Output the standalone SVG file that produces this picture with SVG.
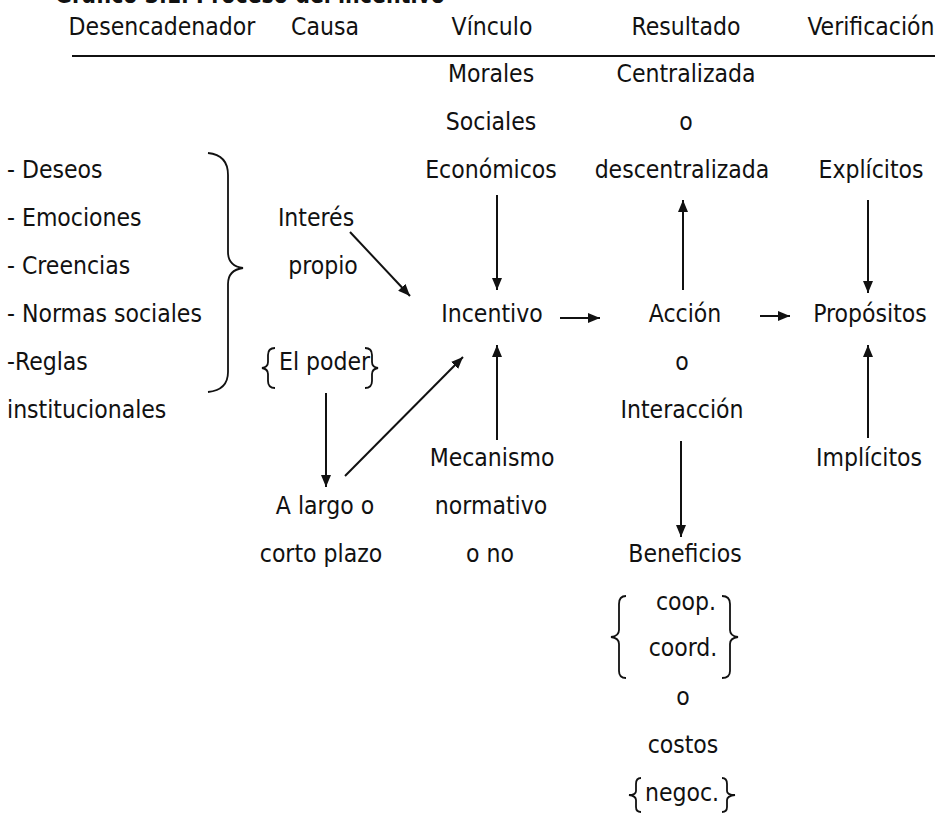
<svg xmlns="http://www.w3.org/2000/svg" width="941" height="816" viewBox="0 0 941 816">
<style>
text{font-family:"DejaVu Sans Condensed","DejaVu Sans",sans-serif;font-size:24.5px;fill:#111;}
.c{text-anchor:middle;}
.t{font-weight:bold;}
.ln{stroke:#111;stroke-width:2;fill:none;}
.br{stroke:#111;stroke-width:1.8;fill:none;}
</style>
<defs>
<marker id="ah" viewBox="0 0 12 10" refX="12" refY="5" markerWidth="12" markerHeight="10" orient="auto" markerUnits="userSpaceOnUse"><path d="M0,0 L12,5 L0,10 Z" fill="#111"/></marker>
</defs>
<rect width="941" height="816" fill="#fff"/>
<g id="title"><text class="t" x="55" y="3" textLength="390" lengthAdjust="spacingAndGlyphs">Gráfico 3.1. Proceso del incentivo</text></g>
<g id="header">
<text class="c" x="162" y="35">Desencadenador</text>
<text class="c" x="325" y="35">Causa</text>
<text class="c" x="492" y="35">Vínculo</text>
<text class="c" x="686" y="35">Resultado</text>
<text class="c" x="871" y="35">Verificación</text>
<line class="ln" x1="72" y1="56" x2="935" y2="56"/>
</g>
<g id="desencadenador">
<text x="7" y="178">- Deseos</text>
<text x="7" y="226">- Emociones</text>
<text x="7" y="274">- Creencias</text>
<text x="7" y="322">- Normas sociales</text>
<text x="7" y="370">-Reglas</text>
<text x="7" y="418">institucionales</text>
<path class="br" d="M208,153 Q228,155 228,175 L228,252 Q228,266 243,268 Q228,270 228,284 L228,372 Q228,390 208,392"/>
</g>
<g id="interes"><text class="c" x="316" y="226">Interés</text><text class="c" x="323" y="274">propio</text></g>
<g id="poder">
<text x="279" y="370">El poder</text>
<path class="br" d="M275,348 Q268,348 268,355 L268,362 Q268,367 262,368 Q268,369 268,374 L268,381 Q268,388 275,388"/>
<path class="br" d="M365,348 Q372,348 372,355 L372,362 Q372,367 378,368 Q372,369 372,374 L372,381 Q372,388 365,388"/>
</g>
<g id="plazo"><text class="c" x="325" y="514">A largo o</text><text class="c" x="321" y="562">corto plazo</text></g>
<g id="vinculos"><text class="c" x="491" y="82">Morales</text><text class="c" x="491" y="130">Sociales</text><text class="c" x="491" y="178">Económicos</text></g>
<g id="incentivo"><text class="c" x="492" y="322">Incentivo</text></g>
<g id="mecanismo"><text class="c" x="492" y="466">Mecanismo</text><text class="c" x="491" y="514">normativo</text><text class="c" x="490" y="562">o no</text></g>
<g id="resultado"><text class="c" x="686" y="82">Centralizada</text><text class="c" x="686" y="130">o</text><text class="c" x="682" y="178">descentralizada</text></g>
<g id="accion"><text class="c" x="685" y="322">Acción</text><text class="c" x="682" y="370">o</text><text class="c" x="682" y="418">Interacción</text></g>
<g id="beneficios">
<text class="c" x="685" y="562">Beneficios</text>
<text class="c" x="686" y="610">coop.</text>
<text class="c" x="683" y="656">coord.</text>
<path class="br" d="M626,596 Q619,596 619,604 L619,630 Q619,636 611,637 Q619,638 619,644 L619,671 Q619,678 626,678"/>
<path class="br" d="M722,596 Q730,596 730,604 L730,630 Q730,636 738,637 Q730,638 730,644 L730,671 Q730,678 722,678"/>
<text class="c" x="683" y="705">o</text>
<text class="c" x="683" y="753">costos</text>
<text class="c" x="682" y="801">negoc.</text>
<path class="br" d="M641,778 Q636,778 636,784 L636,791 Q636,795 629,795 Q636,796 636,800 L636,807 Q636,812 641,812"/>
<path class="br" d="M722,778 Q727,778 727,784 L727,791 Q727,795 735,795 Q727,796 727,800 L727,807 Q727,812 722,812"/>
</g>
<g id="explicitos"><text class="c" x="871" y="178">Explícitos</text></g>
<g id="propositos"><text class="c" x="870" y="322">Propósitos</text></g>
<g id="implicitos"><text class="c" x="869" y="466">Implícitos</text></g>
<g id="connectors" class="ln" marker-end="url(#ah)">
<line x1="350" y1="232" x2="410" y2="296" marker-end="url(#ah)"/>
<line x1="497" y1="195" x2="497" y2="290" marker-end="url(#ah)"/>
<line x1="497" y1="440" x2="497" y2="345" marker-end="url(#ah)"/>
<line x1="326" y1="393" x2="326" y2="487" marker-end="url(#ah)"/>
<line x1="345" y1="476" x2="463" y2="357" marker-end="url(#ah)"/>
<line x1="560" y1="318" x2="600" y2="318" marker-end="url(#ah)"/>
<line x1="683" y1="290" x2="683" y2="200" marker-end="url(#ah)"/>
<line x1="681" y1="441" x2="681" y2="537" marker-end="url(#ah)"/>
<line x1="760" y1="316" x2="790" y2="316" marker-end="url(#ah)"/>
<line x1="868" y1="200" x2="868" y2="293" marker-end="url(#ah)"/>
<line x1="868" y1="438" x2="868" y2="345" marker-end="url(#ah)"/>
</g>
</svg>
